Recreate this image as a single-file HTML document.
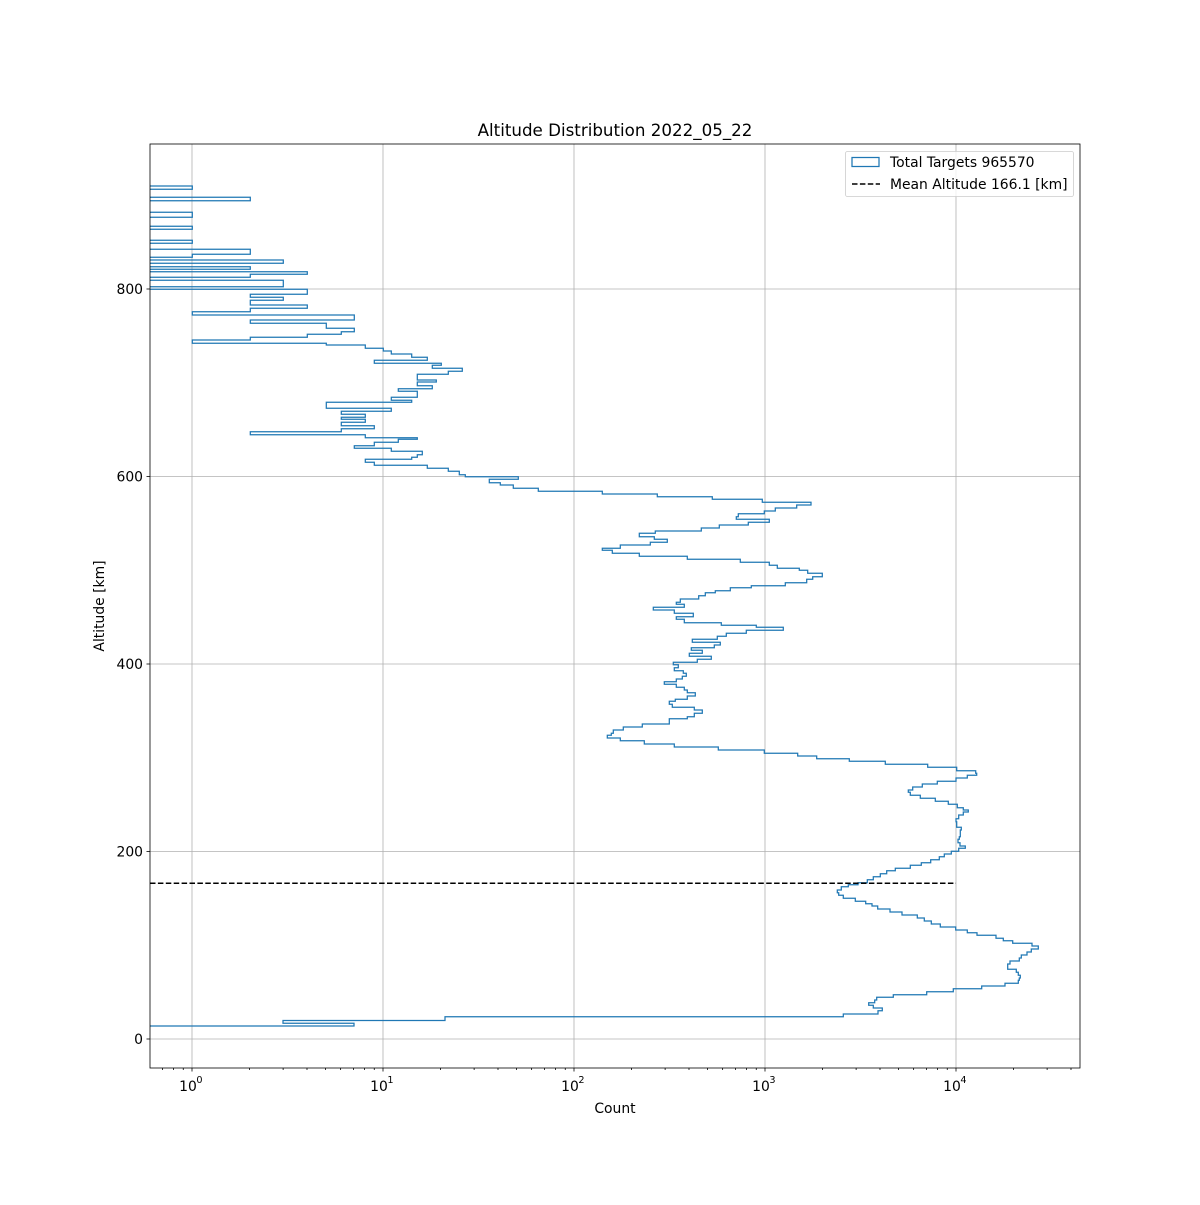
<!DOCTYPE html>
<html><head><meta charset="utf-8"><style>
body{margin:0;background:#fff}
svg text{font-family:"DejaVu Sans","Liberation Sans",sans-serif;fill:#000}
</style></head><body>
<svg id="s" width="1200" height="1200" viewBox="0 0 1200 1200" xmlns="http://www.w3.org/2000/svg">
<rect width="1200" height="1200" fill="#fff"/>
<defs><clipPath id="c"><rect x="150" y="144" width="930" height="924"/></clipPath></defs>
<g id="grid" stroke="#b0b0b0" stroke-width="0.8"></g>
<path id="hist" clip-path="url(#c)" fill="none" stroke="#1f77b4" stroke-width="1.25" stroke-linejoin="miter"/>
<line x1="150" y1="883.3" x2="956" y2="883.3" stroke="#000" stroke-width="1.5" stroke-dasharray="5.5,2.4"/>
<rect x="150" y="144" width="930" height="924" fill="none" stroke="#000" stroke-width="0.8"/>
<g id="ticks" stroke="#000" stroke-width="0.8"></g>
<g id="labels" font-size="13.9"></g>
<text x="615" y="136" text-anchor="middle" font-size="16.7">Altitude Distribution 2022_05_22</text>
<text x="615" y="1113" text-anchor="middle" font-size="13.9">Count</text>
<text transform="translate(104,606) rotate(-90)" text-anchor="middle" font-size="13.9">Altitude [km]</text>
<rect x="845.5" y="151.5" width="228" height="45" rx="2" fill="#fff" fill-opacity="0.8" stroke="#ccc" stroke-width="0.8"/>
<rect x="852" y="157.5" width="27" height="9" fill="none" stroke="#1f77b4" stroke-width="1.25"/>
<line x1="852" y1="184" x2="880" y2="184" stroke="#000" stroke-width="1.5" stroke-dasharray="5.5,2.4"/>
<text x="890" y="167" font-size="13.9">Total Targets 965570</text>
<text x="890" y="189" font-size="13.9">Mean Altitude 166.1 [km]</text>
</svg>
<script>
var NS="http://www.w3.org/2000/svg";
function el(p,t,a,txt){var e=document.createElementNS(NS,t);for(var k in a)e.setAttribute(k,a[k]);if(txt)e.textContent=txt;document.getElementById(p).appendChild(e);return e;}
var X=function(l){return 192+191*l;};
for(var d=0;d<=4;d++){var x=X(d);el("grid","line",{x1:x,y1:144,x2:x,y2:1068});}
for(var a=0;a<=800;a+=200){var y=1039-0.9375*a;el("grid","line",{x1:150,y1:y,x2:1080,y2:y});
 el("ticks","line",{x1:146.5,y1:y,x2:150,y2:y});
 el("labels","text",{x:143,y:y+5,"text-anchor":"end"},String(a));}
for(var d=-1;d<=4;d++){for(var k=1;k<10;k++){var x=X(d+Math.log10(k));if(x<150||x>1080)continue;
 if(k==1){el("ticks","line",{x1:x,y1:1068,x2:x,y2:1071.5});
  el("labels","text",{x:x-4,y:1091,"text-anchor":"middle"},"10");
  el("labels","text",{x:x+7.5,y:1083,"font-size":"9.7","text-anchor":"middle"},String(d));}
 else el("ticks","line",{x1:x,y1:1068,x2:x,y2:1070});}}
var Z=-150;
var z1=[[0,18,Z],[18,28,127],[28,52,Z],[52,62,301],[62,97,Z],[97,112,127],[112,139,Z],[139,148,127],[148,181,Z],[181,190,127],[190,208,Z],[208,223,301],[223,232,127],[232,240,Z],[240,250,400],[250,260,Z],[260,268,301],[268,275,Z],[275,283,472],[283,292,301],[292,301,Z],[301,320,400],[320,328,Z],[328,343,472],[343,352,301],[352,361,400],[361,375,301],[375,385,472],[385,395,301],[395,405,127],[405,420,613],[420,430,301],[430,445,529],[445,455,613],[455,463,574],[463,472,472],[472,480,301],[480,490,127],[490,495,529],[495,505,646],[505,513,700],[513,522,724],[522,532,785],[532,541,832],[541,550,673],[550,556,874],[556,565,847],[565,574,937],[574,583,895],[583,600,802],[600,606,859],[606,617,802],[617,626,847],[626,634,745],[634,652,802],[652,661,724],[661,667,785],[667,685,529],[685,694,724],[694,703,574],[703,712,646],[712,718,574],[718,727,646],[727,737,574],[737,746,673],[746,755,574],[755,764,301],[764,773,646],[773,778,802],[778,787,745],[787,797,673],[797,805,613],[805,814,724],[814,824,817],[824,832,802],[832,838,785],[838,847,646],[847,856,673],[856,865,832],[865,874,895],[874,884,928],[884,890,946]];
var z2=[[20,28,205],[28,38,118],[38,45,151],[45,55,190],[55,64,265],[64,72,457],[72,80,622],[80,88,787],[88,97,937],[97,105,1083],[105,114,1040],[114,123,976],[123,131,943],[131,140,865],[140,148,859],[148,157,958],[157,165,895],[165,174,808],[174,183,754],[183,190,616],[190,200,568],[200,208,613],[208,217,652],[217,225,601],[225,235,511],[235,241,457],[241,250,487],[250,259,568],[259,268,712],[268,277,871],[277,286,958],[286,295,982],[295,301,1048],[301,310,1073],[310,320,1117],[320,328,1088],[328,338,1070],[338,347,1006],[347,353,904],[353,362,841],[362,368,796],[368,377,766],[377,387,746],[387,397,691],[397,403,679],[403,412,703],[412,420,610],[420,430,673],[430,440,730],[440,448,679],[448,458,703],[458,466,814],[466,472,919],[472,481,1000],[481,490,889],[490,499,829],[499,508,802],[508,517,727],[517,525,811],[525,533,793],[533,541,724],[541,550,757],[550,559,718],[559,568,784],[568,577,742],[577,584,670],[584,593,685],[593,602,673],[602,610,700],[610,619,709],[619,627,697],[627,635,679],[635,643,643],[643,652,679],[652,660,703],[660,668,712],[668,678,736],[678,688,712],[688,694,676],[694,703,658],[703,712,667],[712,720,733],[720,730,757],[730,740,733],[740,746,712],[746,762,658],[762,771,577],[771,780,520],[780,790,490],[790,796,484],[796,804,472],[804,812,511],[812,822,583],[822,831,673],[831,840,805],[840,850,943],[850,858,1043],[858,866,1100]];
var z3=[[56,64,808],[64,73,916],[73,82,1043],[82,92,1130],[92,100,1187],[100,106,1190],[106,114,1162],[114,124,1128],[124,132,1072],[132,141,1027],[141,150,998],[150,157,985],[157,166,991],[166,175,1021],[175,184,1066],[184,193,1105],[193,203,1132],[203,210,1150],[210,216,1165],[216,225,1150],[225,236,1136],[236,245,1128],[245,262,1130],[262,270,1144],[270,290,1141],[290,298,1138],[298,308,1134],[308,318,1140],[318,325,1156],[325,334,1136],[334,342,1114],[342,350,1093],[350,359,1078],[359,368,1052],[368,376,1024],[376,385,991],[385,392,946],[392,401,920],[401,410,901],[410,419,880],[419,428,862],[428,434,834],[434,440,805],[440,450,784],[450,458,772],[458,466,776],[466,475,790],[475,484,826],[484,491,857],[491,498,876],[498,507,893],[507,516,930],[516,525,966],[525,534,1012],[534,543,1033],[543,552,1054],[552,561,1081],[561,570,1127],[570,578,1162],[578,586,1191],[586,595,1248],[595,602,1270],[602,610,1298],[610,618,1356],[618,627,1375],[627,636,1354],[636,645,1341],[645,654,1324],[654,663,1318],[663,672,1290],[672,688,1283],[688,697,1309],[697,706,1315],[706,714,1321],[714,721,1318],[721,730,1315],[730,738,1275],[738,746,1205],[746,755,1120],[755,764,1040],[764,772,940],[772,780,890],[780,788,884],[788,796,866],[796,804,880],[804,812,907],[812,822,894],[822,830,790]];
var bands=[];
function add(L,ox,oy){L.forEach(function(b){bands.push([oy+b[0]/3,oy+b[1]/3,b[2]==Z?100:ox+b[2]/3]);});}
add(z1,150,180);add(z2,450,470);add(z3,580,740);
bands.push([1016.7,1020.5,445],[1020.5,1023.3,283],[1023.3,1026,354]);
var d="M100,"+bands[0][0].toFixed(1);
bands.forEach(function(b,i){var y0=i==0?b[0]:bands[i-1][1];d+=" L"+b[2].toFixed(1)+","+y0.toFixed(1)+" L"+b[2].toFixed(1)+","+b[1].toFixed(1);});
d+=" L100,1026";
document.getElementById("hist").setAttribute("d",d);
</script>
</body></html>
